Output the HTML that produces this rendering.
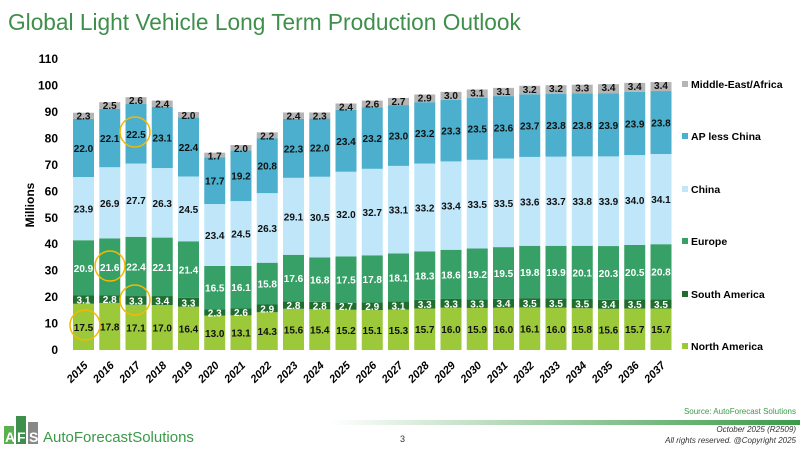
<!DOCTYPE html>
<html><head><meta charset="utf-8"><style>
body{margin:0;width:800px;height:449px;background:#fff;overflow:hidden;font-family:"Liberation Sans",sans-serif}
</style></head><body>
<svg width="800" height="449" viewBox="0 0 800 449" xmlns="http://www.w3.org/2000/svg">
<defs><linearGradient id="gl" x1="0" x2="1"><stop offset="0" stop-color="#fff"/><stop offset="1" stop-color="#3a9a48"/></linearGradient></defs>
<text x="8" y="30" font-size="22.7" fill="#3f8f4c">Global Light Vehicle Long Term Production Outlook</text>
<text transform="translate(34,205) rotate(-90)" text-anchor="middle" font-size="12" font-weight="bold">Millions</text>
<g id="axis"></g><g id="bars"></g><g id="legend"></g>
<g fill="none" stroke="#f5b800" stroke-width="1.5">
<circle cx="85" cy="325" r="15"/><circle cx="110" cy="266" r="15"/><circle cx="135" cy="300" r="15"/><circle cx="135" cy="132" r="15"/></g>
<g>
<rect x="330" y="420" width="470" height="5" fill="url(#gl)"/>
<text x="796" y="414" text-anchor="end" font-size="8" fill="#3a9a48">Source: AutoForecast Solutions</text>
<text x="400" y="442" font-size="9" fill="#333">3</text>
<text x="796" y="432" text-anchor="end" font-size="8" font-style="italic" fill="#333">October 2025 (R2509)</text>
<text x="796" y="443" text-anchor="end" font-size="8" font-style="italic" fill="#333">All rights reserved. @Copyright 2025</text>
<rect x="4" y="426" width="10" height="18" fill="#5aaf50"/><rect x="16" y="416" width="10" height="28" fill="#3f8f4c"/><rect x="28" y="422" width="10" height="22" fill="#888"/>
<text x="5" y="442" font-size="14" fill="#fff" font-weight="bold">A</text><text x="17" y="442" font-size="14" fill="#fff" font-weight="bold">F</text><text x="29" y="442" font-size="14" fill="#fff" font-weight="bold">S</text>
<text x="43" y="442" font-size="15" fill="#3a9a48">AutoForecastSolutions</text>
</g>
</svg>
<script>
const years=[2015,2016,2017,2018,2019,2020,2021,2022,2023,2024,2025,2026,2027,2028,2029,2030,2031,2032,2033,2034,2035,2036,2037];
const northAmerica=[17.5,17.8,17.1,17.0,16.4,13.0,13.1,14.3,15.6,15.4,15.2,15.1,15.3,15.7,16.0,15.9,16.0,16.1,16.0,15.8,15.6,15.7,15.7];
const southAmerica=[3.1,2.8,3.3,3.4,3.3,2.3,2.6,2.9,2.8,2.8,2.7,2.9,3.1,3.3,3.3,3.3,3.4,3.5,3.5,3.5,3.4,3.5,3.5];
const europe=[20.9,21.6,22.4,22.1,21.4,16.5,16.1,15.8,17.6,16.8,17.5,17.8,18.1,18.3,18.6,19.2,19.5,19.8,19.9,20.1,20.3,20.5,20.8];
const china=[23.9,26.9,27.7,26.3,24.5,23.4,24.5,26.3,29.1,30.5,32.0,32.7,33.1,33.2,33.4,33.5,33.5,33.6,33.7,33.8,33.9,34.0,34.1];
const apLessChina=[22.0,22.1,22.5,23.1,22.4,17.7,19.2,20.8,22.3,22.0,23.4,23.2,23.0,23.2,23.3,23.5,23.6,23.7,23.8,23.8,23.9,23.9,23.8];
const middleEastAfrica=[2.3,2.5,2.6,2.4,2.0,1.7,2.0,2.2,2.4,2.3,2.4,2.6,2.7,2.9,3.0,3.1,3.1,3.2,3.2,3.3,3.4,3.4,3.4];
const yTicks=[0,10,20,30,40,50,60,70,80,90,100,110];
const seriesNames=["North America","South America","Europe","China","AP less China","Middle-East/Africa"];
const NS="http://www.w3.org/2000/svg";
const y0=350,pxPer=2.645,x0=83.5,step=26.25,bw=21;
const yS=v=>y0-v*pxPer, xS=i=>x0+i*step;
function mk(t,a,p){const e=document.createElementNS(NS,t);for(const k in a)e.setAttribute(k,a[k]);p.appendChild(e);return e;}
const axis=document.getElementById('axis');
yTicks.forEach(t=>{const e=mk('text',{x:58,y:yS(t)+4,'text-anchor':'end','font-size':12,'font-weight':'bold'},axis);e.textContent=t;

});
const series=[northAmerica,southAmerica,europe,china,apLessChina,middleEastAfrica];
const colors=["#9cc93a","#1f6e30","#37a066","#bfe7f9","#4bafcd","#b5b5b5"];
const txtCol=["#111","#fff","#fff","#111","#111","#111"];
const keys=["north-america","south-america","europe","china","ap-less-china","middle-east-africa"];
const bars=document.getElementById('bars');
years.forEach((yr,i)=>{let cum=0;const cx=xS(i);
series.forEach((s,k)=>{const v=s[i];const top=yS(cum+v),bot=yS(cum);
const r=mk('rect',{x:cx-bw/2,y:top,width:bw,height:bot-top,fill:colors[k]},bars);


const ly=k===5?top+7:(top+bot)/2+4;
const t=mk('text',{x:cx,y:ly,'text-anchor':'middle','font-size':10,'font-weight':'bold',fill:txtCol[k]},bars);t.textContent=v.toFixed(1);


cum+=v;});
const xl=mk('text',{transform:`translate(${cx+5},${366}) rotate(-45)`,'text-anchor':'end','font-size':11,'font-weight':'bold','font-style':'italic'},bars);xl.textContent=yr;

});
const leg=document.getElementById('legend');
const ly=[347,295,242,190,137,85];
seriesNames.forEach((n,k)=>{const g=mk('g',{},leg);


mk('rect',{x:682,y:ly[k]-4,width:6,height:6,fill:colors[k]},g);
const t=mk('text',{x:691,y:ly[k]+3,'font-size':10.5,'font-weight':'bold'},g);t.textContent=n;});
</script>
</body></html>
